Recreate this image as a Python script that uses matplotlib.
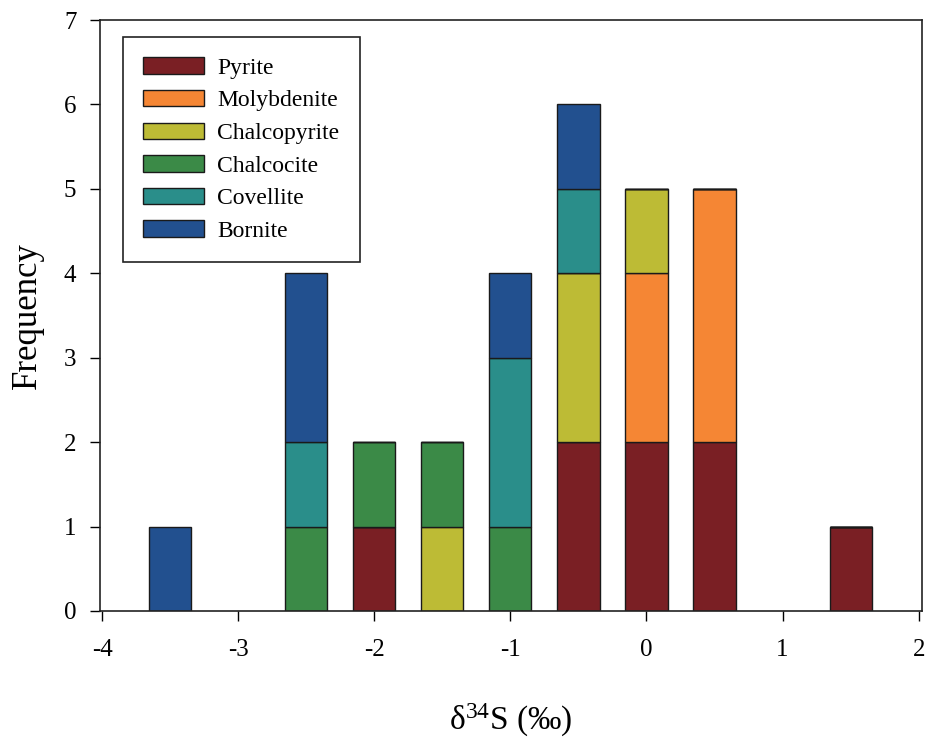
import matplotlib.pyplot as plt
import numpy as np

plt.rcParams['font.family'] = ['Liberation Serif', 'DejaVu Serif']
plt.rcParams['mathtext.fontset'] = 'custom'
plt.rcParams['mathtext.rm'] = 'Liberation Serif'
plt.rcParams['axes.unicode_minus'] = False

# bin centres (delta 34S, permil)
centres = [-3.5, -2.5, -2.0, -1.5, -1.0, -0.5, 0.0, 0.5, 1.5]

# counts per mineral, stacked bottom -> top
pyrite       = [0, 0, 1, 0, 0, 2, 2, 2, 1]
molybdenite  = [0, 0, 0, 0, 0, 0, 2, 3, 0]
chalcopyrite = [0, 0, 0, 1, 0, 2, 1, 0, 0]
chalcocite   = [0, 1, 1, 1, 1, 0, 0, 0, 0]
covellite    = [0, 1, 0, 0, 2, 1, 0, 0, 0]
bornite      = [1, 2, 0, 0, 1, 1, 0, 0, 0]

minerals = ['Pyrite', 'Molybdenite', 'Chalcopyrite', 'Chalcocite', 'Covellite', 'Bornite']
series = [pyrite, molybdenite, chalcopyrite, chalcocite, covellite, bornite]
colors = ['#7a1f24', '#f58634', '#bdbb35', '#3b8a47', '#2a8e8a', '#22508f']

fig = plt.figure(figsize=(9.31, 7.43), dpi=100)
ax = fig.add_axes([0.1074, 0.1777, 0.8826, 0.7953])

bottom = np.zeros(len(centres))
for name, vals, c in zip(minerals, series, colors):
    vals = np.array(vals, dtype=float)
    ax.bar(centres, vals, width=0.31, bottom=bottom, color=c,
           edgecolor='#1a1a1a', linewidth=1.0, label=name)
    bottom += vals

ax.set_xlim(-4.015, 2.022)
ax.set_ylim(0, 7)
ax.set_xticks(np.arange(-4, 3, 1))
ax.set_yticks(np.arange(0, 8, 1))
ax.tick_params(direction='out', length=7, width=1, labelsize=18)
ax.tick_params(axis='x', pad=13)
ax.tick_params(axis='y', pad=10)
for s in ax.spines.values():
    s.set_linewidth(1.2)
    s.set_color('#222222')

ax.set_ylabel('Frequency', fontsize=25, labelpad=14)
ax.set_xlabel(r'$\mathrm{\delta^{34}}$S (‰)', fontsize=24, labelpad=30)

leg = ax.legend(loc='upper left', bbox_to_anchor=(0.028, 0.971), fontsize=17,
                frameon=True, fancybox=False, edgecolor='#222222', framealpha=1,
                handlelength=2.6, handleheight=0.7, labelspacing=0.47,
                borderpad=0.85, handletextpad=0.55, borderaxespad=0)
leg.get_frame().set_linewidth(1.2)

plt.savefig('out.png', dpi=100)
